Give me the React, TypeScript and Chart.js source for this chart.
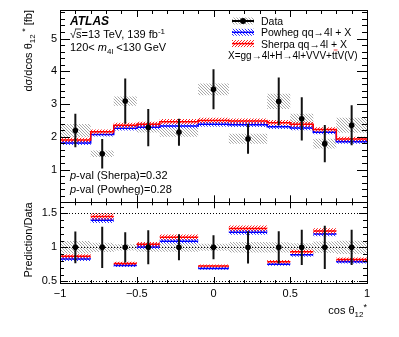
import React, { useEffect, useRef } from 'react';
import { Chart, registerables } from 'chart.js';

Chart.register(...registerables);

// ---------------- data ----------------
const binEdges = [-1, -0.8, -0.65, -0.5, -0.35, -0.1, 0.1, 0.35, 0.5, 0.65, 0.8, 1];
const dataValues = [2.19, 1.48, 3.09, 2.28, 2.14, 3.45, 1.94, 3.08, 2.55, 1.79, 2.35];
const dataStatErr = [0.51, 0.45, 0.69, 0.57, 0.41, 0.61, 0.46, 0.73, 0.66, 0.57, 0.61];
const dataSysErr = [0.2, 0.1, 0.14, 0.15, 0.14, 0.18, 0.15, 0.23, 0.15, 0.15, 0.23];
const sherpaValues = [1.9, 2.15, 2.35, 2.38, 2.46, 2.5, 2.48, 2.43, 2.38, 2.22, 1.93];
const sherpaErr = [0.07, 0.07, 0.08, 0.08, 0.08, 0.08, 0.08, 0.08, 0.08, 0.07, 0.07];
const powhegValues = [1.81, 2.07, 2.26, 2.29, 2.33, 2.38, 2.37, 2.31, 2.27, 2.14, 1.85];
const powhegErr = [0.06, 0.06, 0.07, 0.07, 0.07, 0.07, 0.07, 0.07, 0.07, 0.06, 0.06];

const xTickValues = [-1, -0.5, 0, 0.5, 1];
const xTickLabels = ['\u22121', '\u22120.5', '0', '0.5', '1'];
const yTickValues = [1, 2, 3, 4, 5];
const yTickLabels = ['1', '2', '3', '4', '5'];
const ratioTickValues = [0.5, 1, 1.5];
const ratioTickLabels = ['0.5', '1', '1.5'];
const ratioRefLines = [0.5, 1, 1.5];

const Y_MIN = 0;
const Y_MAX = 5.87;
const R_MIN = 0.475;
const R_MAX = 1.662;
const X_MINOR = 0.1;
const Y_MINOR = 0.2;
const R_MINOR = 0.1;

const FONT = "'Liberation Sans', Arial, Helvetica, sans-serif";

type Run = { t: string; font?: string; dy?: number; over?: boolean };

function hatch(color: string, dir: 1 | -1, s: number, lw: number) {
  const c = document.createElement('canvas');
  c.width = s;
  c.height = s;
  const g = c.getContext('2d')!;
  g.strokeStyle = color;
  g.lineWidth = lw;
  g.beginPath();
  if (dir > 0) {
    g.moveTo(-1, s + 1); g.lineTo(s + 1, -1);
    g.moveTo(-1, 1); g.lineTo(1, -1);
    g.moveTo(s - 1, s + 1); g.lineTo(s + 1, s - 1);
  } else {
    g.moveTo(-1, -1); g.lineTo(s + 1, s + 1);
    g.moveTo(-1, s - 1); g.lineTo(1, s + 1);
    g.moveTo(s - 1, -1); g.lineTo(s + 1, 1);
  }
  g.stroke();
  return g.createPattern(c, 'repeat')!;
}

function drawRuns(ctx: CanvasRenderingContext2D, x: number, y: number, runs: Run[], base: string, align: 'left' | 'right' = 'left') {
  let w = 0;
  for (const r of runs) { ctx.font = r.font || base; w += ctx.measureText(r.t).width; }
  let cx = align === 'right' ? x - w : x;
  ctx.textAlign = 'left';
  ctx.textBaseline = 'alphabetic';
  for (const r of runs) {
    ctx.font = r.font || base;
    const rw = ctx.measureText(r.t).width;
    ctx.fillText(r.t, cx, y + (r.dy || 0));
    if (r.over) {
      ctx.save();
      ctx.lineWidth = 0.8;
      ctx.beginPath();
      ctx.moveTo(cx - 1, y - 8.5);
      ctx.lineTo(cx + rw, y - 8.5);
      ctx.stroke();
      ctx.restore();
    }
    cx += rw;
  }
}

export default function App() {
  const ref = useRef<HTMLCanvasElement>(null);

  useEffect(() => {
    const canvas = ref.current!;
    const nb = dataValues.length;
    const centers = dataValues.map((_, i) => (binEdges[i] + binEdges[i + 1]) / 2);
    const step = (vals: number[]) => [
      ...vals.map((v, i) => ({ x: binEdges[i], y: v })),
      { x: binEdges[nb], y: vals[nb - 1] },
    ];
    const segs = (vals: number[]) =>
      vals.flatMap((v, i) => [
        { x: binEdges[i], y: v },
        { x: binEdges[i + 1], y: v },
        { x: binEdges[i + 1], y: null as any },
      ]);
    const errBars = (vals: number[], errs: number[]) =>
      vals.flatMap((v, i) => [
        { x: centers[i], y: v - errs[i] },
        { x: centers[i], y: v + errs[i] },
        { x: centers[i], y: null as any },
      ]);
    const add = (a: number[], b: number[], s: number) => a.map((v, i) => v + s * b[i]);
    const div = (a: number[], b: number[]) => a.map((v, i) => v / b[i]);

    const ones = dataValues.map((v) => v / v);
    const relStat = div(dataStatErr, dataValues);
    const relSys = div(dataSysErr, dataValues);
    const sherpaRatio = div(sherpaValues, dataValues);
    const sherpaRatioErr = div(sherpaErr, dataValues);
    const powhegRatio = div(powhegValues, dataValues);
    const powhegRatioErr = div(powhegErr, dataValues);

    const grayPat = hatch('#a8a8a8', -1, 3, 1);
    const redPat = hatch('#ff2020', 1, 3, 1);
    const bluePat = hatch('#3030ff', -1, 3, 1);

    const band = (vals: number[], errs: number[], pat: CanvasPattern, yAxisID: string, order: number) => [
      {
        type: 'line' as const,
        data: step(add(vals, errs, 1)),
        stepped: 'before' as const,
        borderWidth: 0,
        pointRadius: 0,
        fill: '+1',
        backgroundColor: pat,
        yAxisID,
        order,
      },
      {
        type: 'line' as const,
        data: step(add(vals, errs, -1)),
        stepped: 'before' as const,
        borderWidth: 0,
        pointRadius: 0,
        fill: false,
        yAxisID,
        order,
      },
    ];

    const linePlain = (data: any[], color: string, width: number, yAxisID: string, order: number, stepped: any = false) => ({
      type: 'line' as const,
      data,
      stepped,
      borderColor: color,
      borderWidth: width,
      pointRadius: 0,
      fill: false,
      spanGaps: false,
      yAxisID,
      order,
    });

    const points = (vals: number[], yAxisID: string) => ({
      type: 'line' as const,
      data: vals.map((v, i) => ({ x: centers[i], y: v })),
      showLine: false,
      pointRadius: 2.8,
      pointBackgroundColor: '#000',
      pointBorderColor: '#000',
      pointBorderWidth: 0,
      yAxisID,
      order: 0,
    });

    const frame = {
      id: 'rootFrame',
      beforeDatasetsDraw(chart: any) {
        const ctx = chart.ctx as CanvasRenderingContext2D;
        const xs = chart.scales.x;
        const r = chart.scales.y2;
        ctx.save();
        ctx.strokeStyle = '#000';
        ctx.lineWidth = 1;
        ctx.setLineDash([1, 2]);
        for (const v of ratioRefLines) {
          const py = Math.round(r.getPixelForValue(v)) + 0.5;
          ctx.beginPath();
          ctx.moveTo(xs.left, py);
          ctx.lineTo(xs.right, py);
          ctx.stroke();
        }
        ctx.restore();
      },
      afterDraw(chart: any) {
        const ctx = chart.ctx as CanvasRenderingContext2D;
        const xs = chart.scales.x;
        const panels = [
          { s: chart.scales.y, majors: yTickValues, minor: Y_MINOR, yMaj: 10, yMin: 5, xMaj: 7, xMin: 4 },
          { s: chart.scales.y2, majors: ratioTickValues, minor: R_MINOR, yMaj: 8, yMin: 4, xMaj: 6, xMin: 3 },
        ];
        ctx.save();
        ctx.strokeStyle = '#000';
        ctx.fillStyle = '#000';
        ctx.lineWidth = 1;
        for (const p of panels) {
          const L = xs.left, R = xs.right, T = p.s.top, B = p.s.bottom;
          ctx.strokeRect(Math.round(L) + 0.5, Math.round(T) + 0.5, Math.round(R - L), Math.round(B - T));
          ctx.beginPath();
          const lo = Math.ceil(p.s.min / p.minor - 1e-6);
          const hi = Math.floor(p.s.max / p.minor + 1e-6);
          for (let k = lo; k <= hi; k++) {
            const v = k * p.minor;
            const major = p.majors.some((m) => Math.abs(m - v) < 1e-6);
            const len = major ? p.yMaj : p.yMin;
            const py = Math.round(p.s.getPixelForValue(v)) + 0.5;
            ctx.moveTo(L, py); ctx.lineTo(L + len, py);
            ctx.moveTo(R, py); ctx.lineTo(R - len, py);
          }
          const xlo = Math.ceil(-1 / X_MINOR - 1e-6);
          const xhi = Math.floor(1 / X_MINOR + 1e-6);
          for (let k = xlo; k <= xhi; k++) {
            const v = k * X_MINOR;
            const major = xTickValues.some((m) => Math.abs(m - v) < 1e-6);
            const len = major ? p.xMaj : p.xMin;
            const px = Math.round(xs.getPixelForValue(v)) + 0.5;
            ctx.moveTo(px, B); ctx.lineTo(px, B - len);
            ctx.moveTo(px, T); ctx.lineTo(px, T + len);
          }
          ctx.stroke();
        }

        const base = `11px ${FONT}`;
        const small = `8px ${FONT}`;
        const ital = `italic 11px ${FONT}`;
        // ATLAS label
        ctx.font = `italic bold 12px ${FONT}`;
        ctx.textAlign = 'left';
        ctx.textBaseline = 'alphabetic';
        ctx.fillText('ATLAS', 70, 24.5);
        drawRuns(ctx, 70, 37.5, [
          { t: '\u221A' },
          { t: 's', over: true },
          { t: '=13 TeV, 139 fb' },
          { t: '-1', font: small, dy: -4 },
        ], base);
        drawRuns(ctx, 70, 51, [
          { t: '120< ' },
          { t: 'm', font: ital },
          { t: '4l', font: small, dy: 3 },
          { t: ' <130 GeV' },
        ], base);
        drawRuns(ctx, 70, 179, [{ t: 'p', font: ital }, { t: '-val (Sherpa)=0.32' }], base);
        drawRuns(ctx, 70, 192.5, [{ t: 'p', font: ital }, { t: '-val (Powheg)=0.28' }], base);

        // legend
        const lx0 = 232, lx1 = 254, tx = 261;
        const rows = [21, 32.3, 43.6];
        const sym = (y: number, pat: CanvasPattern, color: string, dot: boolean) => {
          ctx.fillStyle = pat;
          ctx.fillRect(lx0, y - 3.5, lx1 - lx0, 7);
          ctx.strokeStyle = color;
          ctx.lineWidth = dot ? 2 : 1.5;
          ctx.beginPath();
          ctx.moveTo(lx0, y);
          ctx.lineTo(lx1, y);
          ctx.stroke();
          if (dot) {
            ctx.fillStyle = '#000';
            ctx.beginPath();
            ctx.arc((lx0 + lx1) / 2, y, 3, 0, Math.PI * 2);
            ctx.fill();
          }
          ctx.fillStyle = '#000';
        };
        sym(rows[0], grayPat, '#000', true);
        sym(rows[1], bluePat, '#0000ff', false);
        sym(rows[2], redPat, '#ff0000', false);
        const lf = `10.5px ${FONT}`;
        drawRuns(ctx, tx, rows[0] + 4, [{ t: 'Data' }], lf);
        drawRuns(ctx, tx, rows[1] + 4, [{ t: 'Powheg qq\u21924l + X' }], lf);
        drawRuns(ctx, tx, rows[2] + 4, [{ t: 'Sherpa qq\u21924l + X' }], lf);
        drawRuns(ctx, 228, 58.5, [
          { t: 'X=gg\u21924l+H\u21924l+VVV+t' },
          { t: 't', over: true },
          { t: 'V(V)' },
        ], `10px ${FONT}`);

        // axis titles
        ctx.save();
        ctx.translate(32, chart.scales.y.top);
        ctx.rotate(-Math.PI / 2);
        drawRuns(ctx, 0, 0, [
          { t: 'd\u03C3/dcos \u03B8' },
          { t: '12', font: small, dy: 3 },
          { t: ' *', font: `9px ${FONT}`, dy: -4 },
          { t: ' [fb]' },
        ], base, 'right');
        ctx.restore();
        ctx.save();
        ctx.translate(32, chart.scales.y2.top);
        ctx.rotate(-Math.PI / 2);
        drawRuns(ctx, 0, 0, [{ t: 'Prediction/Data' }], base, 'right');
        ctx.restore();
        drawRuns(ctx, 367, 314, [
          { t: 'cos \u03B8' },
          { t: '12', font: small, dy: 3 },
          { t: '*', font: `9px ${FONT}`, dy: -4 },
        ], base, 'right');
        ctx.restore();
      },
    };

    const chart = new Chart(canvas, {
      type: 'line',
      data: {
        datasets: [
          // upper panel
          points(dataValues, 'y'),
          linePlain(errBars(dataValues, dataStatErr), '#111', 2, 'y', 1),
          linePlain(step(sherpaValues), '#ff0000', 1.5, 'y', 2, 'before'),
          ...band(sherpaValues, sherpaErr, redPat, 'y', 3),
          linePlain(step(powhegValues), '#0000ff', 1.5, 'y', 4, 'before'),
          ...band(powhegValues, powhegErr, bluePat, 'y', 5),
          ...band(dataValues, dataSysErr, grayPat, 'y', 6),
          // lower panel
          points(ones, 'y2'),
          linePlain(errBars(ones, relStat), '#111', 2, 'y2', 1),
          linePlain(segs(sherpaRatio), '#ff0000', 1.5, 'y2', 2),
          ...band(sherpaRatio, sherpaRatioErr, redPat, 'y2', 3),
          linePlain(segs(powhegRatio), '#0000ff', 1.5, 'y2', 4),
          ...band(powhegRatio, powhegRatioErr, bluePat, 'y2', 5),
          ...band(ones, relSys, grayPat, 'y2', 6),
        ] as any,
      },
      options: {
        animation: false,
        responsive: false,
        devicePixelRatio: 1,
        events: [],
        parsing: true,
        layout: { padding: { left: 0, top: 10, right: 32, bottom: 0 } },
        plugins: { legend: { display: false }, tooltip: { enabled: false }, title: { display: false } },
        scales: {
          x: {
            type: 'linear',
            min: -1,
            max: 1,
            position: 'bottom',
            grid: { display: false, drawTicks: false },
            border: { display: false },
            afterBuildTicks: (s: any) => { s.ticks = xTickValues.map((v) => ({ value: v })); },
            afterFit: (s: any) => { s.height = 54; },
            ticks: {
              autoSkip: false,
              maxRotation: 0,
              padding: 4,
              color: '#000',
              font: { family: FONT, size: 11 },
              callback: (_v: any, i: number) => xTickLabels[i],
            },
          },
          y: {
            type: 'linear',
            position: 'left',
            stack: 'panels',
            stackWeight: 2.383,
            weight: 1,
            min: Y_MIN,
            max: Y_MAX,
            grid: { display: false, drawTicks: false },
            border: { display: false },
            afterBuildTicks: (s: any) => { s.ticks = yTickValues.map((v) => ({ value: v })); },
            afterFit: (s: any) => { s.width = 60; },
            ticks: {
              padding: 3,
              color: '#000',
              font: { family: FONT, size: 11 },
              callback: (_v: any, i: number) => yTickLabels[i],
            },
          },
          y2: {
            type: 'linear',
            position: 'left',
            stack: 'panels',
            stackWeight: 1,
            weight: 0,
            min: R_MIN,
            max: R_MAX,
            grid: { display: false, drawTicks: false },
            border: { display: false },
            afterBuildTicks: (s: any) => { s.ticks = ratioTickValues.map((v) => ({ value: v })); },
            afterFit: (s: any) => { s.width = 60; },
            ticks: {
              padding: 3,
              color: '#000',
              font: { family: FONT, size: 11 },
              callback: (_v: any, i: number) => ratioTickLabels[i],
            },
          },
        },
      } as any,
      plugins: [frame],
    });
    return () => chart.destroy();
  }, []);

  return (
    <div style={{ position: 'fixed', left: 0, top: 0, width: 399, height: 337, background: '#fff' }}>
      <canvas ref={ref} width={399} height={337} style={{ display: 'block', width: 399, height: 337 }} />
    </div>
  );
}
